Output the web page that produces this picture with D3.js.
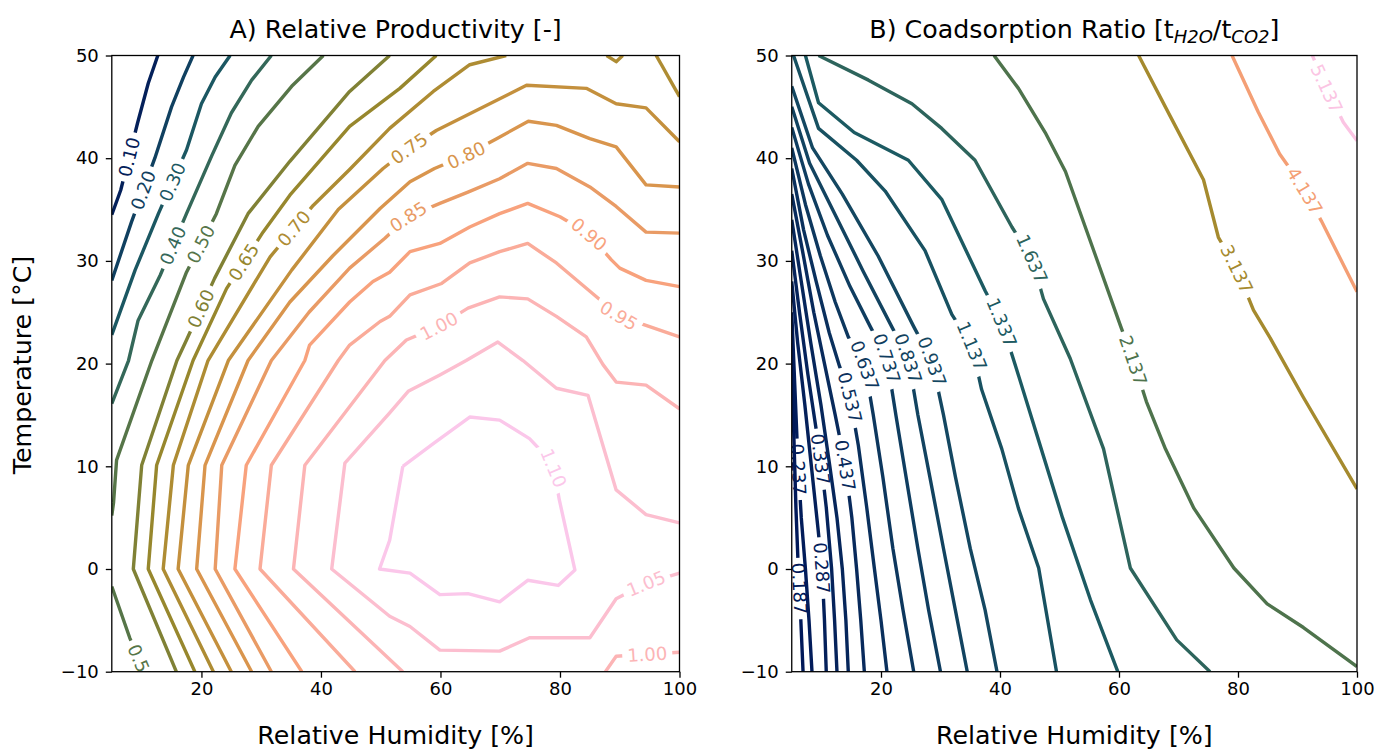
<!DOCTYPE html>
<html>
<head>
<meta charset="utf-8">
<script src="https://cdn.jsdelivr.net/npm/d3@7"></script>
<style>
  body { margin: 0; background: #fff; }
  svg { font-family: "DejaVu Sans", sans-serif; }
</style>
</head>
<body>
<svg id="chart" width="1376" height="751"></svg>
<script>
// axis ticks
const rhTicks = [20, 40, 60, 80, 100]
const tTicks = [-10, 0, 10, 20, 30, 40, 50]

// A) relative productivity, contour lines as [level, [[RH, T], ...]]
const linesA = [
  [0.10, [[12.7,50],[11.1,47.3],[9.3,43.4],[6.5,36.9],[5,34.5]]],
  [0.20, [[18.6,50],[17.0,47.9],[15.0,45.0],[12.2,40.0],[8.3,33.8],[5,28.1]]],
  [0.30, [[24.8,50],[22.3,47.9],[20.0,45.3],[17.5,40.8],[12.8,34.6],[8.9,29.1],[5,22.8]]],
  [0.40, [[31.7,50],[28.4,47.6],[25.0,44.4],[21.7,40.2],[17.5,34.6],[13.1,28.6],[9.4,24.2],[7.8,20.3],[5,16.1]]],
  [0.50, [[40.4,50],[35.1,47.0],[29.5,43.1],[25.6,39.3],[22.5,34.6],[17.5,28.9],[11.7,20.3],[5.8,10.6],[5.3,6.5],[5,5.2]]],
  [0.50, [[5,-1.7],[8.0,-6.7],[10.6,-10.2]]],
  [0.60, [[51.5,50],[44.8,46.5],[34.8,39.7],[27.8,34.6],[22.2,28.3],[17.5,22.3],[15.9,20.3],[10.0,10.1],[8.6,0],[15.8,-10]]],
  [0.65, [[59.3,50],[53.2,46.8],[44.8,43.1],[34.8,36.4],[30.3,32.8],[24.2,27.3],[18.6,20.3],[12.5,10.1],[11.1,0],[18.9,-10]]],
  [0.70, [[71.0,50],[64.9,49.1],[58.8,46.5],[51.5,42.9],[44.8,38.9],[38.7,35.4],[31.5,30.4],[21.1,20.3],[15.3,10.1],[13.6,0],[22.0,-10]]],
  [0.70, [[87.8,50],[89.4,49.4],[90.5,50]]],
  [0.70, [[96.1,50],[100,46.0]]],
  [0.75, [[100,41.6],[94.4,44.9],[89.4,45.3],[84.4,46.8],[74.4,47.1],[59.3,42.7],[54.6,40.9],[50.4,39.0],[42.9,35.0],[35.1,29.1],[24.5,20.3],[17.8,10.1],[16.1,0],[25.0,-10]]],
  [0.80, [[100,37.2],[94.4,37.4],[89.4,41.1],[85.0,41.9],[79.4,43.2],[74.7,43.6],[69.4,41.9],[64.3,40.3],[59.0,39.0],[54.9,37.7],[49.9,35.1],[42.0,30.5],[34.8,26.0],[27.8,20.3],[20.6,10.1],[19.2,0],[28.4,-10]]],
  [0.85, [[100,32.7],[94.4,32.8],[89.4,35.3],[85.0,37.2],[79.4,39.0],[74.6,39.5],[69.9,38.0],[64.6,36.7],[59.9,35.6],[54.6,34.3],[50.7,32.2],[44.8,29.3],[38.0,25.0],[31.7,20.3],[23.4,10.1],[22.3,0],[31.7,-10]]],
  [0.90, [[100,27.5],[94.4,28.1],[90.0,29.3],[88.6,30.1],[84.7,32.7],[80.0,34.3],[74.6,35.6],[69.9,34.6],[64.9,33.3],[59.9,31.7],[54.9,30.9],[51.5,28.9],[48.7,28.0],[44.8,26.0],[38.1,21.8],[37.3,20.3],[27.5,10.1],[25.6,0],[36.8,-10]]],
  [0.95, [[100,22.6],[95.0,23.6],[90.0,24.6],[85.5,26.8],[79.4,29.8],[74.6,31.7],[69.9,30.9],[64.9,29.8],[60.2,27.8],[54.9,26.7],[51.5,24.6],[49.9,24.1],[44.8,21.8],[42.9,20.3],[31.7,10.1],[29.8,0],[45.7,-10]]],
  [1.00, [[100,15.6],[94.4,17.9],[89.4,18.2],[87.2,19.9],[84.4,22.6],[79.4,24.6],[74.6,26.3],[69.9,26.5],[64.6,25.4],[59.6,23.6],[54.3,22.3],[50.7,20.3],[37.3,10.1],[35.4,0],[53.7,-10]]],
  [1.00, [[87.6,-10],[89.4,-8.5],[94.6,-8.3],[100,-8.1]]],
  [1.05, [[100,4.5],[94.4,5.3],[89.4,7.7],[84.7,16.9],[79.4,17.6],[73.8,20.3],[69.6,22.1],[64.3,20.3],[59.9,18.9],[54.6,17.3],[51.5,15.2],[44.0,10.3],[41.8,0],[51.5,-4.6],[54.9,-5.6],[59.9,-7.9],[69.9,-8.0],[74.9,-6.7],[85.0,-6.7],[89.4,-2.9],[94.4,-1.4],[100,-0.4]]],
  [1.10, [[53.7,10.0],[58.8,12.2],[64.9,14.8],[69.9,14.5],[74.9,12.7],[78.8,10.3],[79.9,6.7],[82.5,-0.1],[79.7,-1.6],[74.6,-1.1],[69.9,-3.2],[64.6,-2.4],[59.9,-2.5],[54.9,-0.4],[49.8,0],[51.5,2.8],[53.7,10.0]]]
]
// inline label spots [level, RH, T]
const labelsA = [
  [0.10, 8.0, 40.1], [0.20, 10.2, 36.9], [0.30, 15.1, 37.7], [0.40, 15.2, 31.5],
  [0.50, 20.0, 31.6], [0.50, 9.9, -9.2], [0.60, 19.7, 25.4], [0.65, 27.3, 29.8],
  [0.70, 35.0, 33.4], [0.75, 54.6, 41.1], [0.80, 64.3, 40.3], [0.85, 54.6, 34.3],
  [0.90, 84.7, 32.5], [0.95, 90.0, 24.8], [1.00, 59.6, 23.8], [1.00, 94.6, -8.3],
  [1.05, 94.4, -1.4], [1.10, 78.6, 9.8]
]

// B) coadsorption ratio
const linesB = [
  [0.187, [[5,22],[5.3,14],[5.7,6],[6.1,0],[6.3,-1.9],[6.6,-6],[6.9,-10]]],
  [0.237, [[5,25],[5.5,18],[6.0,11],[6.6,5],[7.3,0],[7.9,-5],[8.4,-10]]],
  [0.287, [[5,28],[6.0,22],[7.2,16],[8.3,10],[9.4,4],[10.1,0],[10.5,-5],[10.8,-10]]],
  [0.337, [[5,31],[6.3,25],[7.7,19],[9.0,14],[9.9,10.5],[10.8,6],[11.7,0],[12.2,-5],[12.6,-10]]],
  [0.387, [[5,34],[6.6,28],[8.2,22],[9.9,16],[11.4,10],[12.6,5],[13.5,0],[14.1,-5],[14.5,-10]]],
  [0.437, [[5,36.5],[6.8,31],[8.7,25],[10.5,20],[12.3,15],[14.0,10.1],[15.1,5],[15.9,0],[16.6,-5],[17.2,-10]]],
  [0.537, [[5,39],[7.0,33],[9.1,28],[11.3,23],[13.0,19.8],[14.8,16.7],[16.2,12],[17.6,6],[18.9,0],[20.0,-5],[21.0,-10]]],
  [0.637, [[5,41],[7.3,35.5],[9.8,30.5],[12.3,26],[14.5,22.6],[17.3,19.8],[18.7,15],[20.3,9],[22.0,2],[23.7,-4],[25.5,-10]]],
  [0.737, [[5,43],[7.8,37.5],[11.0,32.5],[14.8,27.5],[18.2,23.6],[21.0,20.5],[22.5,15],[24.2,9],[26.2,2],[28.0,-4],[30.0,-10]]],
  [0.837, [[5,45],[8.0,39.5],[12.3,34.5],[17.0,29],[21.8,23.6],[24.6,20.5],[26.2,15],[28.2,9],[30.5,2],[32.5,-4],[34.5,-10]]],
  [0.937, [[5,47],[8.5,41],[13.5,36.5],[19.5,30.5],[25.5,23.6],[28.6,20.2],[30.5,15],[32.5,9],[35.0,2],[37.5,-4],[39.5,-10]]],
  [1.137, [[5.3,50],[9.5,42.9],[15.9,39.8],[20.7,36.8],[27.4,31.0],[31.9,24.8],[35.3,21.7],[36.9,17.5],[40.3,11.7],[43.1,5.9],[46.5,0.1],[49.5,-10]]],
  [1.337, [[7.3,50],[9.5,45.4],[15.5,42.5],[24.6,39.8],[30.2,36.0],[37.5,27.1],[40.3,24.0],[42.6,19.8],[46.5,12.5],[50.5,5],[55.2,-3],[59.8,-10]]],
  [1.637, [[9.5,50],[17.9,47.6],[25.2,45.3],[30.2,42.9],[35.8,39.8],[42.0,33.3],[45.4,30.2],[47.3,26.3],[51.8,20.5],[57.4,11.7],[61.9,0.1],[69.7,-6.9],[75.3,-10]]],
  [2.137, [[39.0,50],[43.1,46.8],[47.6,42.5],[51.0,38.7],[56.0,30.6],[60.3,23.6],[62.4,20.3],[64.6,16.3],[67.8,11.7],[72.6,5.9],[79.3,0.1],[84.9,-3.4],[91.0,-5.7],[100,-9.5]]],
  [3.137, [[63.3,50],[68.6,44.1],[74.2,37.9],[76.7,32.3],[79.8,29.2],[82.6,25.2],[85.4,22.5],[91.0,16.7],[100,7.8]]],
  [4.137, [[79.0,50],[83.4,44.5],[87.0,40.4],[90.8,37.3],[94.0,33.9],[100,27.0]]],
  [5.137, [[92.5,50],[94.9,46.8],[97.7,43.5],[100,41.7]]]
]
const labelsB = [
  [0.187, 6.3, -1.9], [0.237, 6.0, 9.7], [0.287, 10.1, 0.1], [0.337, 9.9, 10.7],
  [0.437, 14.0, 10.1], [0.537, 14.8, 16.7], [0.637, 17.3, 19.8], [0.737, 21.0, 20.5],
  [0.837, 24.6, 20.5], [0.937, 28.6, 20.2], [1.137, 35.3, 21.7], [1.337, 40.3, 24.0],
  [1.637, 45.4, 30.2], [2.137, 62.4, 20.3], [3.137, 79.8, 29.2], [4.137, 91.2, 36.8],
  [5.137, 95.0, 46.8]
]

// batlow colour map stops
const batlow = ['#011959', '#103F60', '#1C5A62', '#3C6D56', '#687B3E', '#9D892B', '#D29343', '#F8A17B', '#FDB7BC', '#FACCFA']
const batlowInterp = d3.piecewise(d3.interpolateRgb, batlow)

const svg = d3.select('#chart')
const defs = svg.append('defs')
const y = d3.scaleLinear().domain([-10, 50]).range([671.7, 55.5])
const labelSize = 18
const bigSize = 25.3

drawPanel({ id: 'A', x0: 111.8, x1: 679.5, lines: linesA, labels: labelsA, fmt: d3.format('.2f'), domain: [0.08, 1.13] })
drawPanel({ id: 'B', x0: 791.75, x1: 1357, lines: linesB, labels: labelsB, fmt: d3.format('.3f'), domain: [0.187, 5.35] })

// titles and axis labels
svg.append('text')
  .attr('x', (111.8 + 679.5) / 2).attr('y', 38)
  .attr('text-anchor', 'middle').attr('font-size', bigSize)
  .text('A) Relative Productivity [-]')

const titleB = svg.append('text')
  .attr('x', (791.75 + 1357) / 2).attr('y', 38)
  .attr('text-anchor', 'middle').attr('font-size', bigSize)
titleB.append('tspan').text('B) Coadsorption Ratio [t')
titleB.append('tspan').attr('font-style', 'italic').attr('font-size', 18).attr('dy', 5).text('H2O')
titleB.append('tspan').attr('dy', -5).text('/t')
titleB.append('tspan').attr('font-style', 'italic').attr('font-size', 18).attr('dy', 5).text('CO2')
titleB.append('tspan').attr('dy', -5).text(']')

;[[111.8, 679.5], [791.75, 1357]].forEach(([a, b]) => {
  svg.append('text')
    .attr('x', (a + b) / 2).attr('y', 744)
    .attr('text-anchor', 'middle').attr('font-size', bigSize)
    .text('Relative Humidity [%]')
})

svg.append('text')
  .attr('transform', 'translate(31,365) rotate(-90)')
  .attr('text-anchor', 'middle').attr('font-size', bigSize)
  .text('Temperature [°C]')

function drawPanel(p) {
  const x = d3.scaleLinear().domain([5, 100]).range([p.x0, p.x1])
  const colour = v => batlowInterp((v - p.domain[0]) / (p.domain[1] - p.domain[0]))
  const line = d3.line().x(d => x(d[0])).y(d => y(d[1]))
  const g = svg.append('g').attr('class', `panel-${p.id}`)

  defs.append('clipPath').attr('id', `clip-${p.id}`)
    .append('rect')
    .attr('x', p.x0).attr('y', y(50))
    .attr('width', p.x1 - p.x0).attr('height', y(-10) - y(50))

  const plot = g.append('g').attr('clip-path', `url(#clip-${p.id})`)

  const drawn = p.lines.map(([level, pts], i) => {
    const mask = defs.append('mask')
      .attr('id', `mask-${p.id}-${i}`)
      .attr('maskUnits', 'userSpaceOnUse')
      .attr('x', 0).attr('y', 0).attr('width', 1376).attr('height', 751)
    mask.append('rect').attr('width', 1376).attr('height', 751).attr('fill', '#fff')

    plot.append('path')
      .attr('d', line(pts))
      .attr('fill', 'none')
      .attr('stroke', colour(level))
      .attr('stroke-width', 3.4)
      .attr('stroke-linejoin', 'round')
      .attr('mask', `url(#mask-${p.id}-${i})`)

    const px = pts.map(d => [x(d[0]), y(d[1])])
    return { level, px, mask }
  })

  p.labels.forEach(([level, rh, t]) => {
    const target = [x(rh), y(t)]
    let best = null
    drawn.filter(d => d.level === level).forEach(d => {
      let acc = 0
      for (let k = 0; k < d.px.length - 1; k++) {
        const [ax, ay] = d.px[k], [bx, by] = d.px[k + 1]
        const len = Math.hypot(bx - ax, by - ay)
        let u = len ? ((target[0] - ax) * (bx - ax) + (target[1] - ay) * (by - ay)) / (len * len) : 0
        u = Math.max(0, Math.min(1, u))
        const qx = ax + u * (bx - ax), qy = ay + u * (by - ay)
        const dist = Math.hypot(qx - target[0], qy - target[1])
        if (!best || dist < best.dist) best = { dist, line: d, pos: [qx, qy], s: acc + u * len }
        acc += len
      }
    })
    if (!best) return

    const text = plot.append('text')
      .attr('font-size', labelSize)
      .attr('fill', colour(level))
      .attr('text-anchor', 'middle')
      .attr('dominant-baseline', 'central')
      .text(p.fmt(level))
    const w = text.node().getComputedTextLength()

    const a = pointAt(best.line.px, best.s - w / 2)
    const b = pointAt(best.line.px, best.s + w / 2)
    let angle = Math.atan2(b[1] - a[1], b[0] - a[0]) * 180 / Math.PI
    if (angle > 90) angle -= 180
    if (angle < -90) angle += 180

    const tr = `translate(${best.pos[0]},${best.pos[1]}) rotate(${angle})`
    text.attr('transform', tr)
    best.line.mask.append('rect')
      .attr('x', -w / 2 - 5).attr('y', -labelSize * 0.55)
      .attr('width', w + 10).attr('height', labelSize * 1.1)
      .attr('transform', tr)
      .attr('fill', '#000')
  })

  // axes
  const xAxis = g.append('g')
    .attr('transform', `translate(0,${y(-10)})`)
    .call(d3.axisBottom(x).tickValues(rhTicks).tickSize(6).tickPadding(5))
  const yAxis = g.append('g')
    .attr('transform', `translate(${p.x0},0)`)
    .call(d3.axisLeft(y).tickValues(tTicks).tickSize(6).tickPadding(7))
  ;[xAxis, yAxis].forEach(ax => {
    ax.attr('font-family', null).attr('font-size', labelSize)
    ax.select('.domain').remove()
    ax.selectAll('line').attr('stroke', '#000').attr('stroke-width', 1.3)
    ax.selectAll('text').attr('fill', '#000')
  })

  g.append('rect')
    .attr('x', p.x0).attr('y', y(50))
    .attr('width', p.x1 - p.x0).attr('height', y(-10) - y(50))
    .attr('fill', 'none').attr('stroke', '#000').attr('stroke-width', 1.3)
}

function pointAt(px, s) {
  let acc = 0
  for (let k = 0; k < px.length - 1; k++) {
    const [ax, ay] = px[k], [bx, by] = px[k + 1]
    const len = Math.hypot(bx - ax, by - ay)
    if (s <= acc + len || k === px.length - 2) {
      const u = len ? Math.max(-1, Math.min(2, (s - acc) / len)) : 0
      return [ax + u * (bx - ax), ay + u * (by - ay)]
    }
    acc += len
  }
  return px[0]
}
</script>
</body>
</html>
